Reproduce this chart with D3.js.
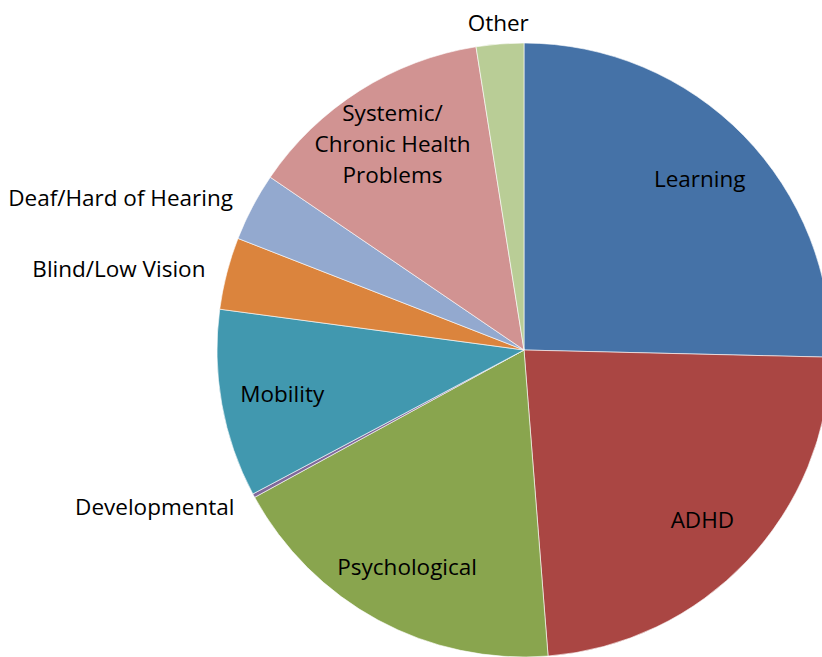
<!DOCTYPE html>
<html>
<head>
<meta charset="utf-8">
<script src="https://cdnjs.cloudflare.com/ajax/libs/d3/7.8.5/d3.min.js"></script>
<style>
  body { margin: 0; background: #fff; }
  text { font-family: "Open Sans", sans-serif; font-size: 22.5px; fill: #000; }
</style>
</head>
<body>
<div class="chart"></div>
<script>
// categories in clockwise order starting at 12 o'clock
const categories = ["Learning", "ADHD", "Psychological", "Developmental", "Mobility",
    "Blind/Low Vision", "Deaf/Hard of Hearing", "Systemic/Chronic Health Problems", "Other"];
const shares = [25.4, 23.4, 18.3, 0.2, 9.9, 3.8, 3.6, 13.0, 2.5];
const labelLines = [["Learning"], ["ADHD"], ["Psychological"], ["Developmental"], ["Mobility"],
    ["Blind/Low Vision"], ["Deaf/Hard of Hearing"], ["Systemic/", "Chronic Health", "Problems"], ["Other"]];
const outside = ["Developmental", "Blind/Low Vision", "Deaf/Hard of Hearing", "Other"];
const colors = ["#4572A7", "#AA4643", "#89A54E", "#80699B", "#4198AF",
    "#DB843D", "#93A9CF", "#D19392", "#B9CD96"];

var width = 822,
    height = 657,
    cx = 524,
    cy = 350,
    radius = 307;

var color = d3.scaleOrdinal().domain(categories).range(colors);

var data = categories.map(function (c, i) {
    return { name: c, value: shares[i], lines: labelLines[i] };
});

var svg = d3.select('.chart')
    .append('svg')
    .attr("width", width)
    .attr("height", height)
    .append("g")
    .attr("transform", "translate(" + cx + "," + cy + ")");

var pie = d3.pie()
    .sort(null)
    .value(function (d) { return d.value; });

var arc = d3.arc().innerRadius(0).outerRadius(radius);
var inLabel = d3.arc().innerRadius(radius * 0.8).outerRadius(radius * 0.8);
var outLabel = d3.arc().innerRadius(radius + 22).outerRadius(radius + 22);

var arcs = pie(data);

svg.selectAll(".slice")
    .data(arcs)
    .enter()
    .append("path")
    .attr("class", "slice")
    .attr("d", arc)
    .style("fill", function (d) { return color(d.data.name); })
    .style("stroke", "#fff")
    .style("stroke-width", 0.6);

var lineH = 31;

svg.selectAll(".label")
    .data(arcs)
    .enter()
    .append("text")
    .attr("class", "label")
    .each(function (d) {
        var isOut = outside.indexOf(d.data.name) >= 0;
        var p = isOut ? outLabel.centroid(d) : inLabel.centroid(d);
        var anchor = "middle";
        if (isOut && p[0] < -60) anchor = "end";
        var t = d3.select(this)
            .attr("text-anchor", anchor)
            .attr("dominant-baseline", "central");
        var n = d.data.lines.length;
        d.data.lines.forEach(function (l, i) {
            t.append("tspan")
                .attr("x", p[0])
                .attr("y", p[1] + (i - (n - 1) / 2) * lineH)
                .text(l);
        });
    });
</script>
</body>
</html>
